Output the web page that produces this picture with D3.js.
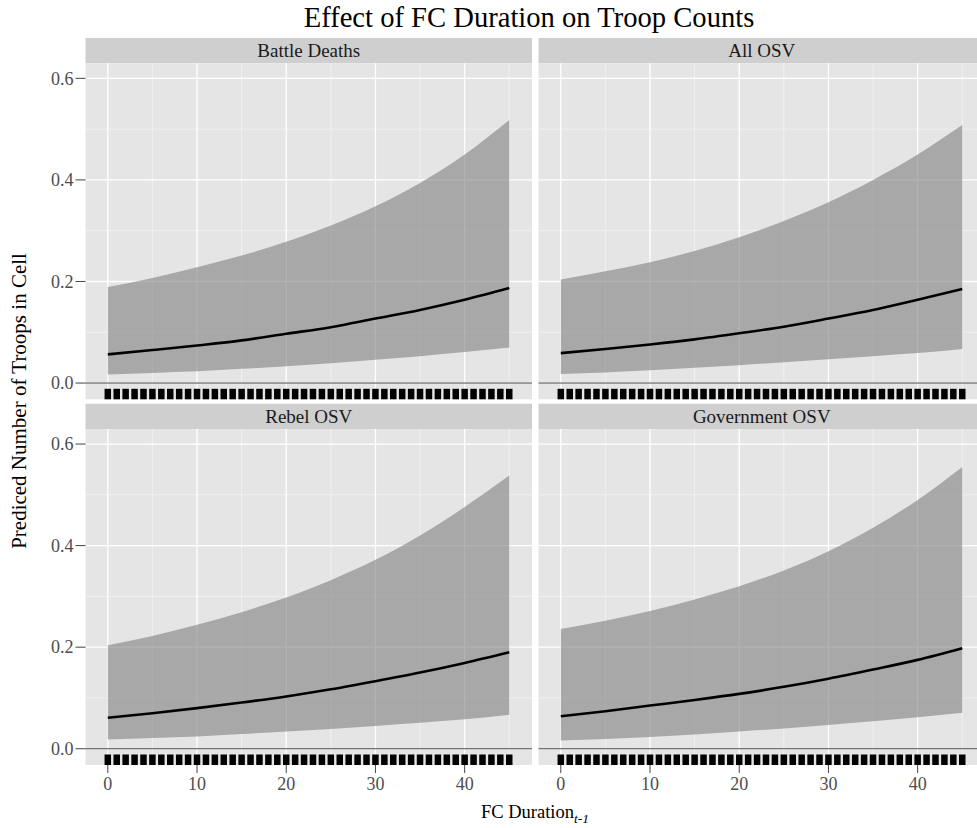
<!DOCTYPE html>
<html>
<head>
<meta charset="utf-8">
<script src="https://cdn.jsdelivr.net/npm/d3@7"></script>
<style>
  html, body { margin: 0; padding: 0; background: #ffffff; }
  svg { display: block; font-family: "Liberation Serif", "Times New Roman", serif; }
</style>
</head>
<body>
<svg id="chart" width="977" height="828"></svg>
<script>
// ---------------- data ----------------
const facetNames = ["Battle Deaths", "All OSV", "Rebel OSV", "Government OSV"];
const duration = [0, 5, 10, 15, 20, 25, 30, 35, 40, 45];

const battleMean  = [0.0565, 0.065, 0.074, 0.084, 0.097, 0.110, 0.127, 0.144, 0.164, 0.187];
const battleLower = [0.017, 0.020, 0.023, 0.028, 0.033, 0.039, 0.046, 0.053, 0.061, 0.070];
const battleUpper = [0.189, 0.207, 0.228, 0.251, 0.278, 0.310, 0.348, 0.394, 0.450, 0.518];

const allMean  = [0.059, 0.067, 0.076, 0.086, 0.098, 0.111, 0.127, 0.144, 0.164, 0.185];
const allLower = [0.018, 0.021, 0.025, 0.030, 0.035, 0.041, 0.047, 0.053, 0.059, 0.067];
const allUpper = [0.204, 0.220, 0.238, 0.260, 0.287, 0.319, 0.356, 0.400, 0.450, 0.508];

const rebelMean  = [0.061, 0.070, 0.080, 0.091, 0.103, 0.117, 0.133, 0.150, 0.169, 0.190];
const rebelLower = [0.018, 0.021, 0.024, 0.029, 0.034, 0.039, 0.045, 0.051, 0.058, 0.067];
const rebelUpper = [0.204, 0.222, 0.244, 0.269, 0.298, 0.332, 0.372, 0.420, 0.476, 0.538];

const govMean  = [0.064, 0.074, 0.085, 0.096, 0.108, 0.122, 0.138, 0.156, 0.175, 0.198];
const govLower = [0.016, 0.019, 0.023, 0.028, 0.034, 0.040, 0.047, 0.054, 0.062, 0.071];
const govUpper = [0.236, 0.252, 0.271, 0.294, 0.320, 0.351, 0.389, 0.435, 0.490, 0.555];

// observed FC duration values (rug)
const rugValues = [0,1,2,3,4,5,6,7,8,9,10,11,12,13,14,15,16,17,18,19,20,21,22,23,24,25,26,27,28,29,30,31,32,33,34,35,36,37,38,39,40,41,42,43,44,45];

const xTicks = [0, 10, 20, 30, 40];
const xMinorTicks = [5, 15, 25, 35, 45];
const yTicks = [0.0, 0.2, 0.4, 0.6];
const yMinorTicks = [0.1, 0.3, 0.5];
const yTickLabels = ["0.0", "0.2", "0.4", "0.6"];

const chartTitle = "Effect of FC Duration on Troop Counts";
const yTitle = "Prediced Number of Troops in Cell";
const xTitleMain = "FC Duration";
const xTitleSub = "t-1";

// ---------------- layout ----------------
const svg = d3.select("#chart");
const panelW = 446.5, panelH = 336, stripH = 25.3;
const colX = [85.5, 538.5];
const rowY = [63.3, 429];   // panel tops

const xDomain = [-2.5, 47.55];
const yDomain = [-0.032, 0.6296];

const facetData = [
  {name: facetNames[0], mean: battleMean, lower: battleLower, upper: battleUpper},
  {name: facetNames[1], mean: allMean,    lower: allLower,    upper: allUpper},
  {name: facetNames[2], mean: rebelMean,  lower: rebelLower,  upper: rebelUpper},
  {name: facetNames[3], mean: govMean,    lower: govLower,    upper: govUpper}
];

facetData.forEach((f, i) => {
  const col = i % 2, row = Math.floor(i / 2);
  const left = colX[col], top = rowY[row];
  const x = d3.scaleLinear().domain(xDomain).range([left, left + panelW]);
  const y = d3.scaleLinear().domain(yDomain).range([top + panelH, top]);
  const g = svg.append("g");

  // strip
  g.append("rect").attr("x", left).attr("y", top - stripH).attr("width", panelW).attr("height", stripH)
    .attr("fill", "#CFCFCF");
  g.append("text").attr("x", left + panelW / 2).attr("y", top - stripH + 19)
    .attr("text-anchor", "middle").attr("font-size", 19).attr("fill", "#1a1a1a").text(f.name);

  // panel background
  g.append("rect").attr("x", left).attr("y", top).attr("width", panelW).attr("height", panelH)
    .attr("fill", "#E5E5E5");

  // minor grid
  g.selectAll(".ymin").data(yMinorTicks).enter().append("line")
    .attr("x1", left).attr("x2", left + panelW).attr("y1", d => y(d)).attr("y2", d => y(d))
    .attr("stroke", "#F2F2F2").attr("stroke-width", 0.9);
  g.selectAll(".xmin").data(xMinorTicks).enter().append("line")
    .attr("x1", d => x(d)).attr("x2", d => x(d)).attr("y1", top).attr("y2", top + panelH)
    .attr("stroke", "#F2F2F2").attr("stroke-width", 0.9);
  // major grid
  g.selectAll(".ymaj").data(yTicks).enter().append("line")
    .attr("x1", left).attr("x2", left + panelW).attr("y1", d => y(d)).attr("y2", d => y(d))
    .attr("stroke", "#FFFFFF").attr("stroke-width", 1.3);
  g.selectAll(".xmaj").data(xTicks).enter().append("line")
    .attr("x1", d => x(d)).attr("x2", d => x(d)).attr("y1", top).attr("y2", top + panelH)
    .attr("stroke", "#FFFFFF").attr("stroke-width", 1.3);

  const pts = duration.map((d, k) => ({x: d, m: f.mean[k], lo: f.lower[k], hi: f.upper[k]}));

  // ribbon
  const area = d3.area().x(d => x(d.x)).y0(d => y(d.lo)).y1(d => y(d.hi)).curve(d3.curveMonotoneX);
  g.append("path").datum(pts).attr("d", area).attr("fill", "#7F7F7F").attr("fill-opacity", 0.6);

  // zero line
  g.append("line").attr("x1", left).attr("x2", left + panelW).attr("y1", y(0)).attr("y2", y(0))
    .attr("stroke", "#4a4a4a").attr("stroke-width", 1);

  // mean line
  const line = d3.line().x(d => x(d.x)).y(d => y(d.m)).curve(d3.curveMonotoneX);
  g.append("path").datum(pts).attr("d", line).attr("fill", "none")
    .attr("stroke", "#000000").attr("stroke-width", 2.6);

  // rug
  g.selectAll(".rug").data(rugValues).enter().append("line")
    .attr("x1", d => x(d)).attr("x2", d => x(d))
    .attr("y1", top + panelH - 10.5).attr("y2", top + panelH)
    .attr("stroke", "#000000").attr("stroke-width", 6.5);

  // y axis (left column only)
  if (col === 0) {
    const ya = g.append("g");
    ya.selectAll("line").data(yTicks).enter().append("line")
      .attr("x1", left - 10).attr("x2", left).attr("y1", d => y(d)).attr("y2", d => y(d))
      .attr("stroke", "#444").attr("stroke-width", 1);
    ya.selectAll("text").data(yTicks).enter().append("text")
      .attr("x", left - 12).attr("y", d => y(d)).attr("dy", "0.35em")
      .attr("text-anchor", "end").attr("font-size", 18).attr("fill", "#4D4D4D")
      .text((d, k) => yTickLabels[k]);
  }
  // x axis (bottom row only)
  if (row === 1) {
    const xa = g.append("g");
    xa.selectAll("line").data(xTicks).enter().append("line")
      .attr("x1", d => x(d)).attr("x2", d => x(d)).attr("y1", top + panelH).attr("y2", top + panelH + 8)
      .attr("stroke", "#444").attr("stroke-width", 1);
    xa.selectAll("text").data(xTicks).enter().append("text")
      .attr("x", d => x(d)).attr("y", top + panelH + 25)
      .attr("text-anchor", "middle").attr("font-size", 18).attr("fill", "#4D4D4D")
      .text(d => d);
  }
});

// title
svg.append("text").attr("x", 529).attr("y", 27).attr("text-anchor", "middle")
  .attr("font-size", 28.6).attr("fill", "#000").text(chartTitle);

// x title with subscript
const xt = svg.append("text").attr("x", 535).attr("y", 818).attr("text-anchor", "middle")
  .attr("font-size", 18.5).attr("fill", "#000");
xt.append("tspan").text(xTitleMain);
xt.append("tspan").attr("font-size", 13.5).attr("font-style", "italic").attr("dy", 4.5).text(xTitleSub);

// y title
svg.append("text").attr("transform", "translate(26,401) rotate(-90)")
  .attr("text-anchor", "middle").attr("font-size", 21).attr("fill", "#000").text(yTitle);
</script>
</body>
</html>
